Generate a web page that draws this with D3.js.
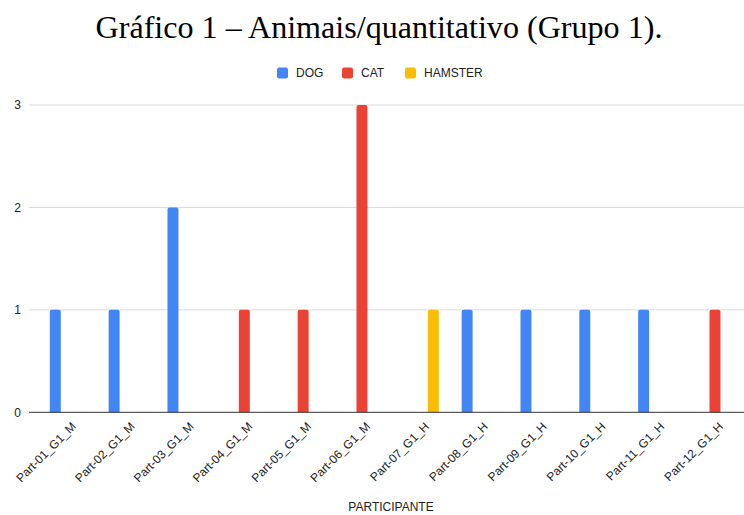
<!DOCTYPE html>
<html>
<head>
<meta charset="utf-8">
<script src="https://cdn.jsdelivr.net/npm/d3@7"></script>
<style>
  body { margin: 0; background: #fff; }
  svg { display: block; }
</style>
</head>
<body>
<div id="chart"></div>
<script>
const participants = [
  'Part-01_G1_M', 'Part-02_G1_M', 'Part-03_G1_M', 'Part-04_G1_M',
  'Part-05_G1_M', 'Part-06_G1_M', 'Part-07_G1_H', 'Part-08_G1_H',
  'Part-09_G1_H', 'Part-10_G1_H', 'Part-11_G1_H', 'Part-12_G1_H'
]
const seriesNames = ['DOG', 'CAT', 'HAMSTER']
const dogValues = [1, 1, 2, 0, 0, 0, 0, 1, 1, 1, 1, 0]
const catValues = [0, 0, 0, 1, 1, 3, 0, 0, 0, 0, 0, 1]
const hamsterValues = [0, 0, 0, 0, 0, 0, 1, 0, 0, 0, 0, 0]
const yTicks = [0, 1, 2, 3]
const colors = ['#4285f4', '#ea4335', '#fbbc04']

const W = 744, H = 515
const PLOT = { LEFT: 29, RIGHT: 744, TOP: 105, BOTTOM: 412.3 }

const svg = d3.select('#chart').append('svg')
  .attr('width', W)
  .attr('height', H)

// title, scaled to fit the reference width
const title = svg.append('text')
  .attr('x', 379)
  .attr('y', 38)
  .attr('text-anchor', 'middle')
  .attr('font-family', '"Palatino Linotype", "Book Antiqua", Palatino, "Liberation Serif", serif')
  .attr('font-size', 26)
  .attr('fill', '#000')
  .text('Gráfico 1 – Animais/quantitativo (Grupo 1).')
const tw = title.node().getComputedTextLength()
title.attr('font-size', 26 * 567 / tw)

const series = seriesNames.map((name, i) => ({
  name: name,
  color: colors[i],
  values: [dogValues, catValues, hamsterValues][i]
}))

const x0 = d3.scaleBand()
  .domain(participants)
  .range([38.4, 744.4])

const x1 = d3.scaleBand()
  .domain(seriesNames)
  .range([-18, 18])
  .paddingInner(0.125)

const y = d3.scaleLinear()
  .domain([0, 3])
  .range([PLOT.BOTTOM, PLOT.TOP])

// gridlines
svg.append('g')
  .selectAll('line')
  .data(yTicks.filter(d => d > 0))
  .join('line')
    .attr('x1', PLOT.LEFT)
    .attr('x2', PLOT.RIGHT)
    .attr('y1', d => y(d))
    .attr('y2', d => y(d))
    .attr('stroke', '#d9d9d9')
    .attr('stroke-width', 1)

// y labels
svg.append('g')
  .selectAll('text')
  .data(yTicks)
  .join('text')
    .attr('x', 21)
    .attr('y', d => y(d))
    .attr('dy', '0.35em')
    .attr('text-anchor', 'end')
    .attr('font-family', 'Arial, "Liberation Sans", sans-serif')
    .attr('font-size', 12)
    .attr('fill', '#222')
    .text(d => d)

// bars with rounded tops
function barPath(x, w, yTop, yBot, r) {
  const h = yBot - yTop
  r = Math.min(r, h / 2, w / 2)
  return `M${x},${yBot} V${yTop + r} Q${x},${yTop} ${x + r},${yTop} H${x + w - r} Q${x + w},${yTop} ${x + w},${yTop + r} V${yBot} Z`
}

const groups = svg.append('g')
  .selectAll('g')
  .data(participants)
  .join('g')
    .attr('transform', d => `translate(${x0(d) + x0.bandwidth() / 2},0)`)

groups.selectAll('path')
  .data((d, i) => series.map(s => ({ name: s.name, color: s.color, value: s.values[i] })).filter(b => b.value > 0))
  .join('path')
    .attr('d', b => barPath(x1(b.name), x1.bandwidth(), y(b.value), y(0), 2))
    .attr('fill', b => b.color)

// baseline
svg.append('line')
  .attr('x1', PLOT.LEFT)
  .attr('x2', PLOT.RIGHT)
  .attr('y1', y(0))
  .attr('y2', y(0))
  .attr('stroke', '#333')
  .attr('stroke-width', 1)

// x labels
svg.append('g')
  .selectAll('text')
  .data(participants)
  .join('text')
    .attr('transform', d => `translate(${x0(d) + x0.bandwidth() / 2 + 6},${y(0) + 12}) rotate(-45)`)
    .attr('text-anchor', 'end')
    .attr('dy', '0.35em')
    .attr('font-family', 'Arial, "Liberation Sans", sans-serif')
    .attr('font-size', 12)
    .attr('fill', '#222')
    .text(d => d)

// x axis title
svg.append('text')
  .attr('x', 391)
  .attr('y', 511)
  .attr('text-anchor', 'middle')
  .attr('font-family', 'Arial, "Liberation Sans", sans-serif')
  .attr('font-size', 12)
  .attr('fill', '#222')
  .text('PARTICIPANTE')

// legend
const legendX = [277, 342, 405]
const legend = svg.append('g')
  .selectAll('g')
  .data(series)
  .join('g')
    .attr('transform', (d, i) => `translate(${legendX[i]},73)`)

legend.append('rect')
  .attr('x', 0)
  .attr('y', -5.5)
  .attr('width', 11)
  .attr('height', 11)
  .attr('rx', 2)
  .attr('fill', d => d.color)

legend.append('text')
  .attr('x', 19)
  .attr('y', 0)
  .attr('dy', '0.35em')
  .attr('font-family', 'Arial, "Liberation Sans", sans-serif')
  .attr('font-size', 12)
  .attr('fill', '#222')
  .text(d => d.name)
</script>
</body>
</html>
